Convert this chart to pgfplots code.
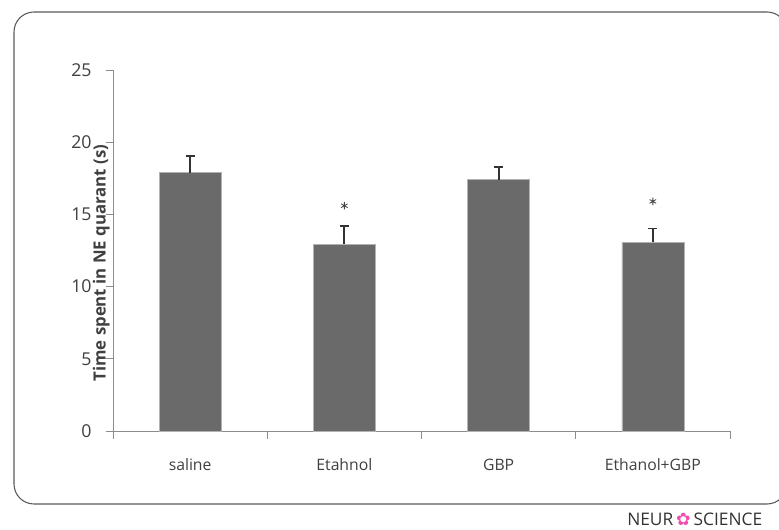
\documentclass[border=0pt]{standalone}
\usepackage{fontspec}
\setmainfont{Open Sans}
\newfontfamily\symfont{DejaVu Sans}
\usepackage{pgfplots}
\pgfplotsset{compat=1.18}
\definecolor{barfill}{HTML}{6A6A6B}
\definecolor{axgray}{HTML}{8C8C8C}
\definecolor{txt}{HTML}{404040}
\definecolor{errc}{HTML}{333333}
\begin{document}
\begin{tikzpicture}[x=0.75pt,y=0.75pt]
\useasboundingbox (0,0) rectangle (779,530);
\draw[color=black!65, line width=0.8pt, rounded corners=15pt] (14,518) rectangle (787,26);
\begin{axis}[
  at={(84.75pt,74.25pt)}, anchor=south west,
  scale only axis, width=462.75pt, height=270.75pt,
  xmin=-0.5, xmax=3.5, ymin=0, ymax=25,
  axis x line=bottom, axis y line=left,
  axis line style={-, draw=axgray, line width=0.6pt},
  tick align=outside,
  xtick={0,1,2,3},
  xticklabels={saline,Etahnol,GBP,Ethanol+GBP},
  major x tick style={draw=none},
  minor xtick={-0.5,0.5,1.5,2.5,3.5},
  minor tick length=6pt,
  major tick length=5.5pt,
  minor x tick style={draw=axgray, line width=0.6pt},
  ytick={0,5,10,15,20,25},
  y tick style={draw=axgray, line width=0.6pt},
  xticklabel style={font=\fontsize{11.8}{14}\selectfont, text=txt, yshift=-12pt},
  yticklabel style={font=\fontsize{13.3}{15}\selectfont, text=txt, xshift=-7pt},
  /pgf/number format/assume math mode=true,
  ylabel={Time spent in NE quarant (s)},
  ylabel style={at={(axis description cs:-0.019,0.465)}, anchor=center, font=\bfseries\fontsize{12.6}{14}\selectfont, text=txt},
  clip=false,
]
\addplot[ybar, bar width=46.5pt, fill=barfill, draw=black!30,
  error bars/.cd, y dir=plus, y explicit,
  error bar style={draw=errc, line width=1.4pt},
  error mark options={rotate=90, draw=errc, line width=1.4pt, mark size=3.4pt}]
  coordinates {(0,17.9) +- (0,1.15) (1,12.93) +- (0,1.25) (2,17.40) +- (0,0.86) (3,13.07) +- (0,0.95)};
\addplot[only marks, mark=asterisk, mark size=2.8pt, color=txt, line width=0.6pt]
  coordinates {(1,15.6) (3,15.9)};
\end{axis}
\node[anchor=west, inner sep=0pt, font=\fontsize{13}{15}\selectfont, text=black!80] at (627,11) {NEUR\,{\symfont\color{magenta!70}✿}\,SCIENCE};
\end{tikzpicture}
\end{document}
